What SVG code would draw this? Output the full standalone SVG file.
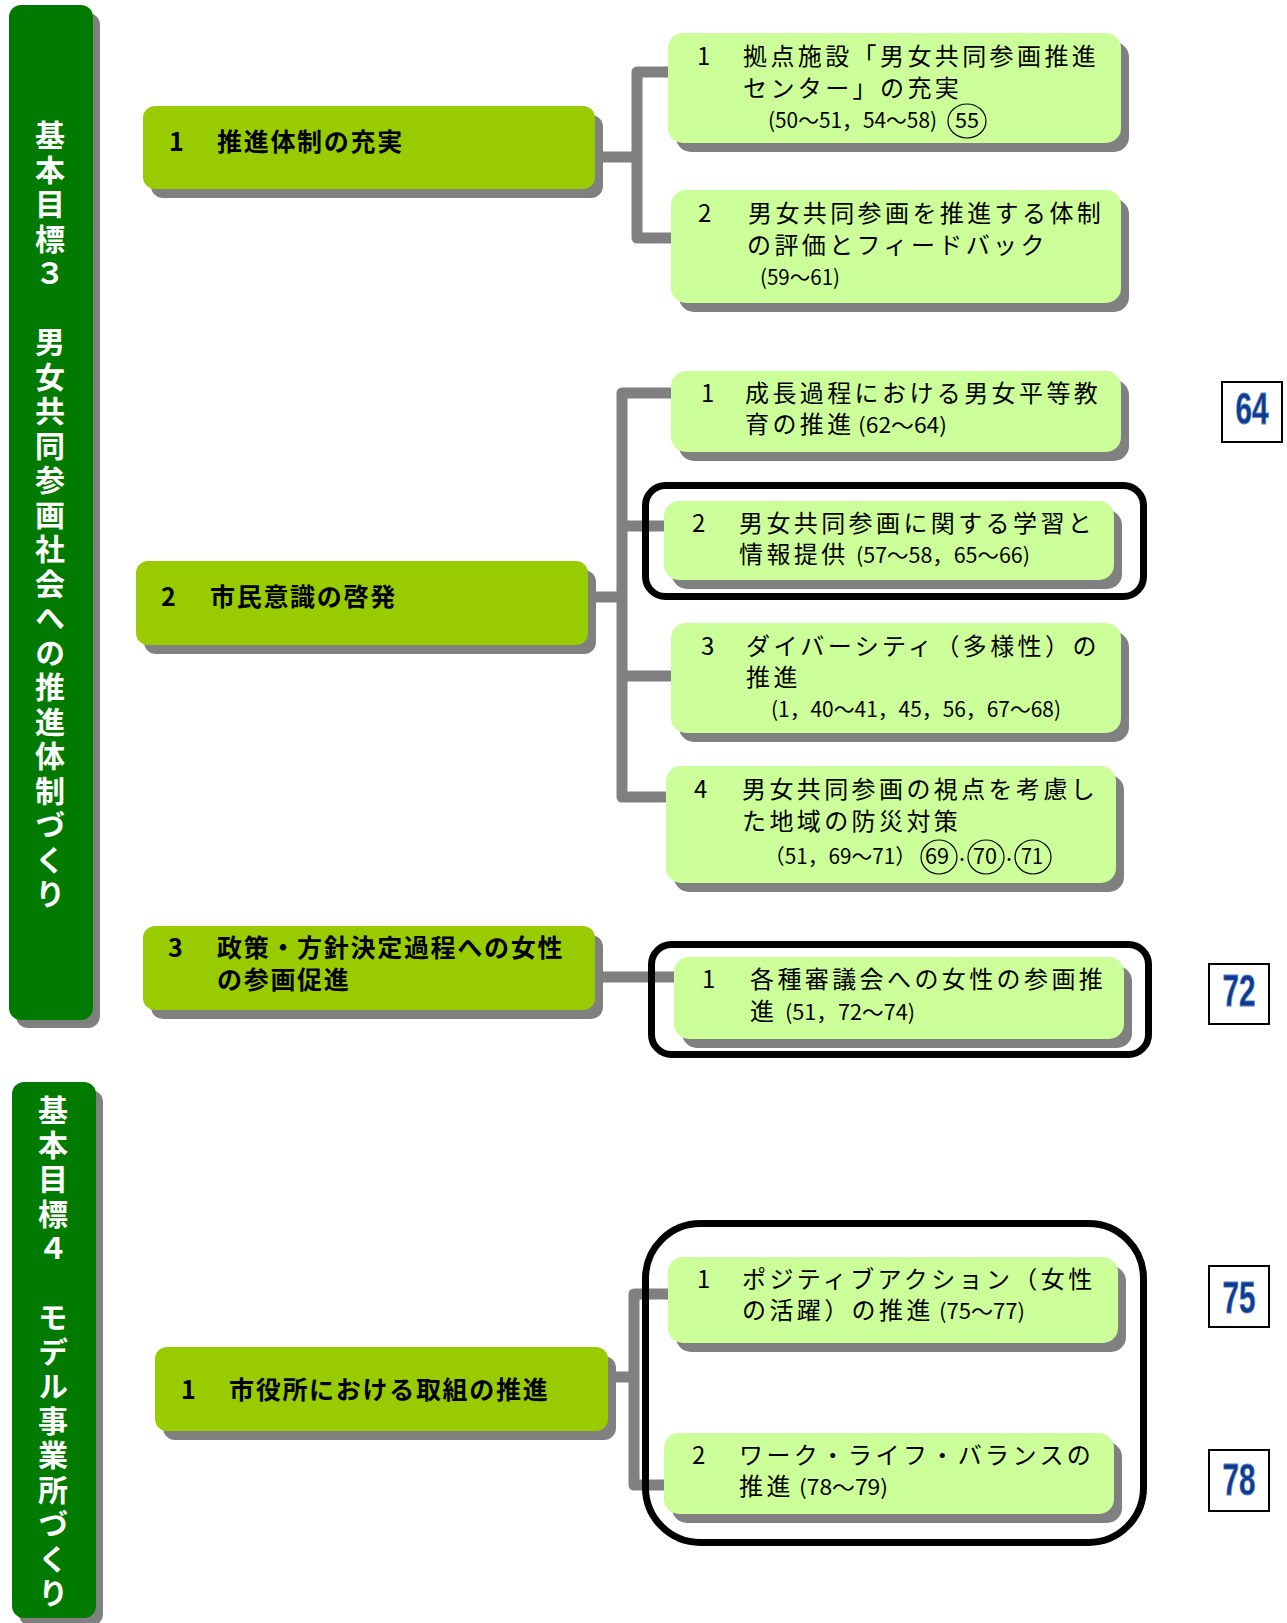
<svg xmlns="http://www.w3.org/2000/svg" width="1287" height="1623" viewBox="0 0 1287 1623">
<style>
.sh{fill:#808080}
.pn{fill:#007b00}
.l2{fill:#99cc00}
.l3{fill:#ccff99}
.fr{fill:none;stroke:#000;stroke-width:7}
.cn{fill:none;stroke:#808080;stroke-width:11;stroke-linejoin:round}
.pt{font-family:"Noto Sans CJK JP",sans-serif;font-weight:700;font-size:30px;fill:#fff;writing-mode:vertical-rl;text-orientation:upright;letter-spacing:4.5px}
.t2{font-family:"Noto Sans CJK JP",sans-serif;font-weight:700;font-size:25px;letter-spacing:1.7px;fill:#000}
.t3{font-family:"Noto Sans CJK JP",sans-serif;font-size:24px;letter-spacing:3.4px;fill:#000}
.nm{font-family:"Noto Sans CJK JP",sans-serif;font-size:21px;letter-spacing:0;fill:#000}
.cc{fill:none;stroke:#000;stroke-width:1.2}
.pb{fill:#fff;stroke:#000;stroke-width:2}
.pg{font-family:"Liberation Sans",sans-serif;font-weight:700;font-size:44px;fill:#0d3b8e;stroke:#5b84c9;stroke-width:0.8;text-anchor:middle}
</style>
<g id="connectors">
<path class="cn" d="M595,157 H637"/>
<path class="cn" d="M671,72 H637 V238 H671"/>
<path class="cn" d="M588,597 H622"/>
<path class="cn" d="M671,393 H622 V797 H666"/>
<path class="cn" d="M622,526 H664"/>
<path class="cn" d="M622,676 H671"/>
<path class="cn" d="M595,977 H674"/>
<path class="cn" d="M608,1377 H634"/>
<path class="cn" d="M668,1294 H634 V1485 H664"/>
</g>
<g id="goal3">
<rect class="sh" x="16" y="13" width="84" height="1015" rx="12"/>
<rect class="pn" x="9" y="5" width="84" height="1015" rx="12"/>
<text class="pt" x="50" y="120">基本目標３　男女共同参画社会への推進体制づくり</text>
</g>
<g id="goal4">
<rect class="sh" x="19" y="1090" width="84" height="536" rx="12"/>
<rect class="pn" x="12" y="1082" width="84" height="536" rx="12"/>
<text class="pt" x="53" y="1095">基本目標４　モデル事業所づくり</text>
</g>
<g id="A1">
<rect class="sh" x="151" y="115" width="452" height="83" rx="12"/>
<rect class="l2" x="143" y="106" width="452" height="83" rx="12"/>
<text class="t2" y="151"><tspan x="169">1</tspan><tspan x="217">推進体制の充実</tspan></text>
</g>
<g id="A2">
<rect class="sh" x="144" y="570" width="452" height="84" rx="12"/>
<rect class="l2" x="136" y="561" width="452" height="84" rx="12"/>
<text class="t2" y="606"><tspan x="161">2</tspan><tspan x="210">市民意識の啓発</tspan></text>
</g>
<g id="A3">
<rect class="sh" x="151" y="935" width="452" height="84" rx="12"/>
<rect class="l2" x="143" y="926" width="452" height="84" rx="12"/>
<text class="t2"><tspan x="168" y="957">3</tspan><tspan x="217" y="957">政策・方針決定過程への女性</tspan><tspan x="217" y="989">の参画促進</tspan></text>
</g>
<g id="B1">
<rect class="sh" x="163" y="1356" width="453" height="84" rx="12"/>
<rect class="l2" x="155" y="1347" width="453" height="84" rx="12"/>
<text class="t2" y="1399"><tspan x="181">1</tspan><tspan x="229">市役所における取組の推進</tspan></text>
</g>
<g id="C1">
<rect class="sh" x="676" y="42" width="453" height="110" rx="15"/>
<rect class="l3" x="668" y="33" width="453" height="110" rx="15"/>
<text class="t3"><tspan x="697" y="65">1</tspan><tspan x="743" y="65">拠点施設「男女共同参画推進</tspan><tspan x="743" y="97">センター」の充実</tspan><tspan class="nm" x="768" y="128" textLength="169" lengthAdjust="spacingAndGlyphs">(50～51，54～58)</tspan></text>
<ellipse class="cc" cx="967" cy="121" rx="19" ry="17"/>
<text class="nm" x="967" y="128" text-anchor="middle" textLength="24" lengthAdjust="spacingAndGlyphs">55</text>
</g>
<g id="C2">
<rect class="sh" x="679" y="199" width="450" height="113" rx="15"/>
<rect class="l3" x="671" y="190" width="450" height="113" rx="15"/>
<text class="t3"><tspan x="698" y="222">2</tspan><tspan x="748" y="222">男女共同参画を推進する体制</tspan><tspan x="747" y="254">の評価とフィードバック</tspan><tspan class="nm" x="760" y="285" textLength="80" lengthAdjust="spacingAndGlyphs">(59～61)</tspan></text>
</g>
<g id="D1">
<rect class="sh" x="679" y="380" width="450" height="81" rx="15"/>
<rect class="l3" x="671" y="371" width="450" height="81" rx="15"/>
<text class="t3"><tspan x="701" y="402">1</tspan><tspan x="745" y="402">成長過程における男女平等教</tspan><tspan x="745" y="433">育の推進</tspan><tspan class="nm" x="858" y="433" textLength="89" lengthAdjust="spacingAndGlyphs">(62～64)</tspan></text>
</g>
<g id="D2">
<rect class="sh" x="672" y="510" width="450" height="79" rx="15"/>
<rect class="l3" x="664" y="501" width="450" height="79" rx="15"/>
<text class="t3"><tspan x="692" y="532">2</tspan><tspan x="739" y="532">男女共同参画に関する学習と</tspan><tspan x="739" y="563">情報提供</tspan><tspan class="nm" x="856" y="563" textLength="174" lengthAdjust="spacingAndGlyphs">(57～58，65～66)</tspan></text>
</g>
<g id="D3">
<rect class="sh" x="679" y="632" width="450" height="110" rx="15"/>
<rect class="l3" x="671" y="623" width="450" height="110" rx="15"/>
<text class="t3"><tspan x="701" y="655">3</tspan><tspan x="746" y="655">ダイバーシティ（多様性）の</tspan><tspan x="746" y="686">推進</tspan><tspan class="nm" x="771" y="717" textLength="290" lengthAdjust="spacingAndGlyphs">(1，40～41，45，56，67～68)</tspan></text>
</g>
<g id="D4">
<rect class="sh" x="674" y="775" width="450" height="117" rx="15"/>
<rect class="l3" x="666" y="766" width="450" height="117" rx="15"/>
<text class="t3"><tspan x="694" y="798">4</tspan><tspan x="742" y="798">男女共同参画の視点を考慮し</tspan><tspan x="742" y="830">た地域の防災対策</tspan><tspan class="nm" x="764" y="864" textLength="152" lengthAdjust="spacingAndGlyphs">（51，69～71）</tspan></text>
<ellipse class="cc" cx="939" cy="857" rx="18" ry="17"/>
<ellipse class="cc" cx="986" cy="857" rx="18" ry="17"/>
<ellipse class="cc" cx="1033" cy="857" rx="18" ry="17"/>
<text class="nm" y="864" text-anchor="middle"><tspan x="937" textLength="24" lengthAdjust="spacingAndGlyphs">69</tspan><tspan x="962" font-size="14">・</tspan><tspan x="985" textLength="24" lengthAdjust="spacingAndGlyphs">70</tspan><tspan x="1009" font-size="14">・</tspan><tspan x="1032" textLength="22" lengthAdjust="spacingAndGlyphs">71</tspan></text>
</g>
<g id="E1">
<rect class="sh" x="682" y="966" width="450" height="82" rx="15"/>
<rect class="l3" x="674" y="957" width="450" height="82" rx="15"/>
<text class="t3"><tspan x="702" y="988">1</tspan><tspan x="750" y="988">各種審議会への女性の参画推</tspan><tspan x="750" y="1020">進</tspan><tspan class="nm" x="785" y="1020" textLength="130" lengthAdjust="spacingAndGlyphs">(51，72～74)</tspan></text>
</g>
<g id="F1">
<rect class="sh" x="676" y="1266" width="450" height="86" rx="15"/>
<rect class="l3" x="668" y="1257" width="450" height="86" rx="15"/>
<text class="t3"><tspan x="697" y="1288">1</tspan><tspan x="742" y="1288">ポジティブアクション（女性</tspan><tspan x="742" y="1319">の活躍）の推進</tspan><tspan class="nm" x="939" y="1319" textLength="86" lengthAdjust="spacingAndGlyphs">(75～77)</tspan></text>
</g>
<g id="F2">
<rect class="sh" x="672" y="1442" width="450" height="81" rx="15"/>
<rect class="l3" x="664" y="1433" width="450" height="81" rx="15"/>
<text class="t3"><tspan x="692" y="1464">2</tspan><tspan x="739" y="1464">ワーク・ライフ・バランスの</tspan><tspan x="739" y="1495">推進</tspan><tspan class="nm" x="799" y="1495" textLength="89" lengthAdjust="spacingAndGlyphs">(78～79)</tspan></text>
</g>
<g id="frames">
<rect class="fr" x="645.5" y="485.5" width="498" height="111" rx="20"/>
<rect class="fr" x="651.5" y="944.5" width="497" height="110" rx="20"/>
<rect class="fr" x="645.5" y="1223.5" width="498" height="319" rx="55"/>
</g>
<g id="p64">
<rect class="pb" x="1222" y="382" width="60" height="60"/>
<text class="pg" x="1252" y="424" textLength="33" lengthAdjust="spacingAndGlyphs">64</text>
</g>
<g id="p72">
<rect class="pb" x="1209" y="964" width="60" height="60"/>
<text class="pg" x="1239" y="1006" textLength="33" lengthAdjust="spacingAndGlyphs">72</text>
</g>
<g id="p75">
<rect class="pb" x="1209" y="1266" width="60" height="61"/>
<text class="pg" x="1239" y="1313" textLength="33" lengthAdjust="spacingAndGlyphs">75</text>
</g>
<g id="p78">
<rect class="pb" x="1209" y="1450" width="60" height="61"/>
<text class="pg" x="1239" y="1495" textLength="33" lengthAdjust="spacingAndGlyphs">78</text>
</g>
</svg>
